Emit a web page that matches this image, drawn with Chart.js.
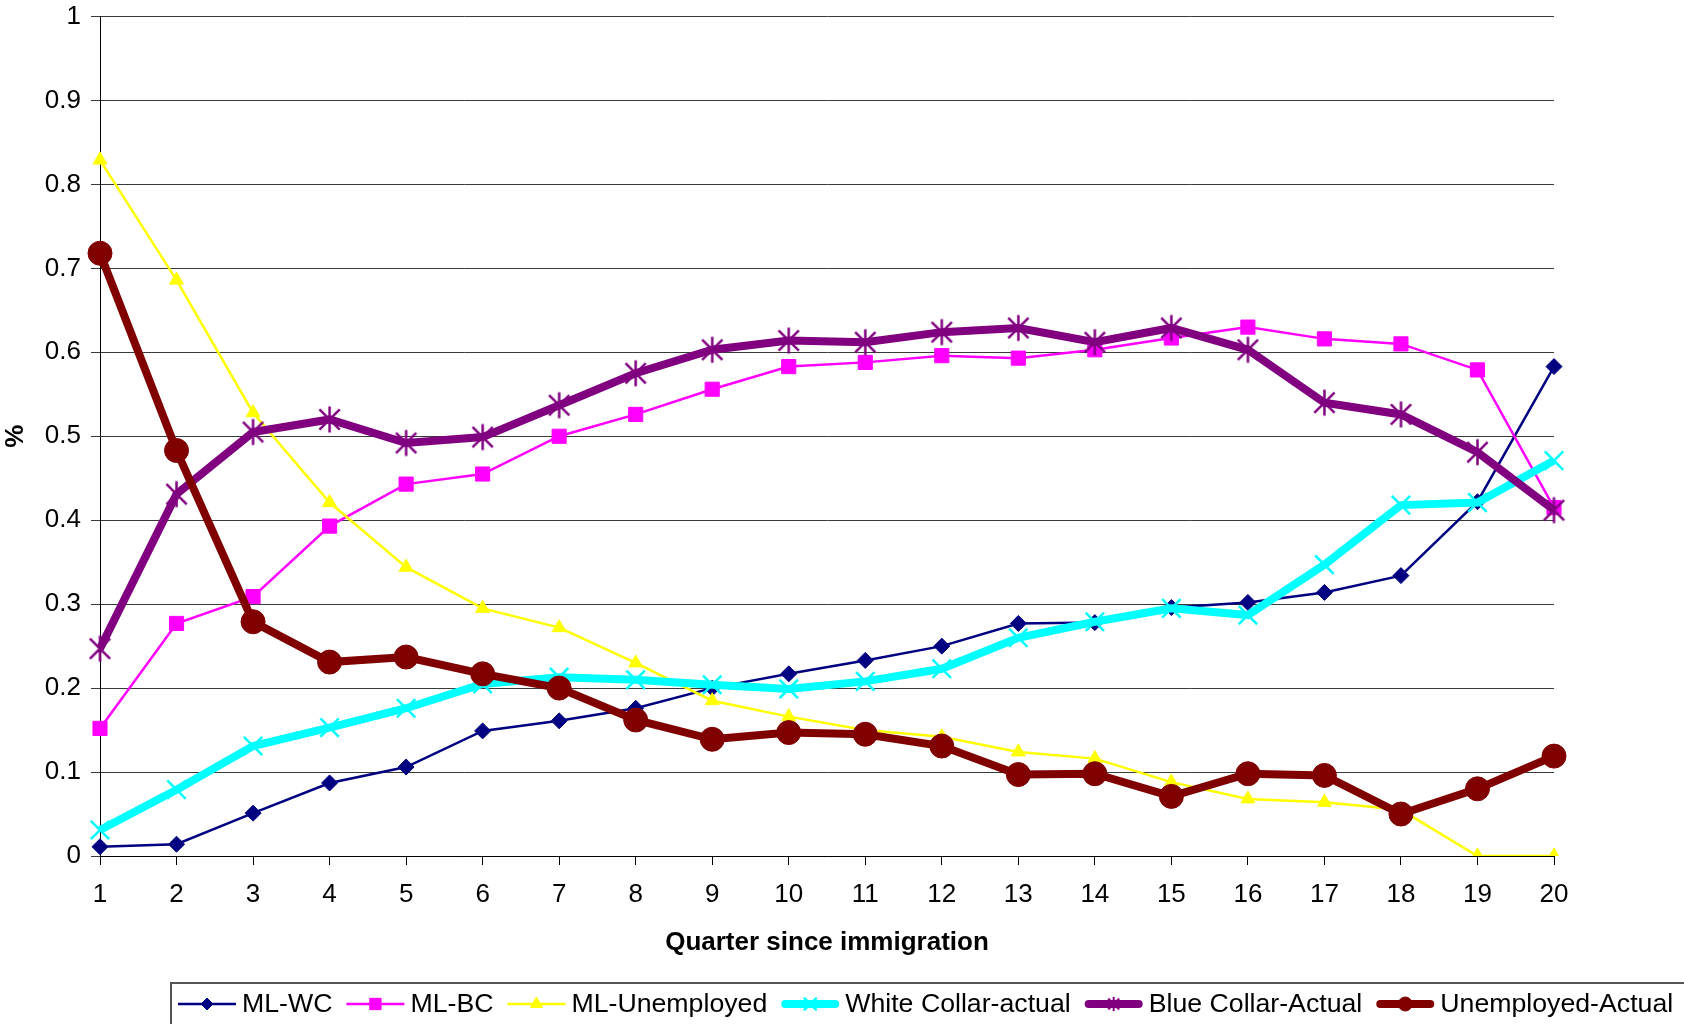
<!DOCTYPE html>
<html>
<head>
<meta charset="utf-8">
<title>Occupation shares by quarter since immigration</title>
<script src="https://cdn.jsdelivr.net/npm/chart.js@4/dist/chart.umd.min.js"></script>
<style>
  html, body { margin: 0; padding: 0; background: #fff; }
  #wrap { width: 1684px; height: 1024px; position: relative; }
</style>
</head>
<body>
<div id="wrap"><canvas id="c" width="1684" height="1024"></canvas></div>
<script>
// Quarters since immigration (x categories)
const quarters = ['1','2','3','4','5','6','7','8','9','10','11','12','13','14','15','16','17','18','19','20'];

// Model (ML) predicted shares
const mlWC = [0.011, 0.014, 0.051, 0.087, 0.106, 0.149, 0.161, 0.176, 0.200, 0.217,
              0.233, 0.250, 0.277, 0.278, 0.296, 0.302, 0.314, 0.334, 0.422, 0.583];
const mlBC = [0.152, 0.277, 0.309, 0.393, 0.443, 0.455, 0.500, 0.526, 0.556, 0.583,
              0.588, 0.596, 0.593, 0.603, 0.617, 0.630, 0.616, 0.610, 0.579, 0.415];
const mlUnemployed = [0.829, 0.686, 0.528, 0.421, 0.344, 0.295, 0.272, 0.230, 0.185, 0.166,
                      0.150, 0.142, 0.124, 0.116, 0.088, 0.068, 0.064, 0.055, 0.000, 0.000];

// Observed shares
const whiteCollarActual = [0.031, 0.079, 0.131, 0.153, 0.176, 0.205, 0.213, 0.210, 0.204, 0.199,
                           0.208, 0.223, 0.260, 0.279, 0.295, 0.287, 0.347, 0.418, 0.421, 0.471];
const blueCollarActual = [0.247, 0.431, 0.505, 0.520, 0.492, 0.499, 0.537, 0.575, 0.603, 0.614,
                          0.612, 0.624, 0.629, 0.612, 0.629, 0.603, 0.540, 0.526, 0.481, 0.412];
const unemployedActual = [0.718, 0.483, 0.279, 0.231, 0.237, 0.217, 0.200, 0.162, 0.139, 0.147,
                          0.145, 0.131, 0.097, 0.098, 0.071, 0.098, 0.096, 0.050, 0.080, 0.119];

const seriesNames = ['ML-WC', 'ML-BC', 'ML-Unemployed', 'White Collar-actual', 'Blue Collar-Actual', 'Unemployed-Actual'];
const yTickValues = [0, 0.1, 0.2, 0.3, 0.4, 0.5, 0.6, 0.7, 0.8, 0.9, 1];

const FONT = '"Liberation Sans", Arial, Helvetica, sans-serif';

// Asterisk marker: an X with a vertical stroke through it
function asterisk(color, r, lw) {
  const s = Math.ceil(2 * r + lw * 2);
  const c = document.createElement('canvas');
  c.width = s; c.height = s;
  const g = c.getContext('2d');
  const m = s / 2, d = r * 0.78;
  g.strokeStyle = color; g.lineWidth = lw; g.lineCap = 'butt';
  g.beginPath();
  g.moveTo(m - d, m - d); g.lineTo(m + d, m + d);
  g.moveTo(m + d, m - d); g.lineTo(m - d, m + d);
  g.moveTo(m, m - r); g.lineTo(m, m + r);
  g.stroke();
  return c;
}
const starBig = asterisk('#800080', 13, 2.5);
const starSmall = asterisk('#800080', 7, 2);

const styles = [
  { color: '#000080', width: 2.5, point: 'rectRot',  radius: 8,  pb: 1,   legendPoint: 'rectRot',  legendRadius: 6 },
  { color: '#FF00FF', width: 2.5, point: 'rect',     radius: 10, pb: 1,   legendPoint: 'rect',     legendRadius: 8 },
  { color: '#FFFF00', width: 2.5, point: 'triangle', radius: 8,  pb: 1,   legendPoint: 'triangle', legendRadius: 7 },
  { color: '#00FFFF', width: 8,   point: 'crossRot', radius: 13, pb: 2.5, legendPoint: 'crossRot', legendRadius: 8 },
  { color: '#800080', width: 8,   point: starBig,    radius: 13, pb: 2.5, legendPoint: starSmall,  legendRadius: 7 },
  { color: '#800000', width: 8,   point: 'circle',   radius: 12, pb: 1,   legendPoint: 'circle',   legendRadius: 7 }
];
const seriesData = [mlWC, mlBC, mlUnemployed, whiteCollarActual, blueCollarActual, unemployedActual];

const datasets = seriesNames.map((name, i) => ({
  label: name,
  data: seriesData[i],
  borderColor: styles[i].color,
  backgroundColor: styles[i].color,
  borderWidth: styles[i].width,
  pointStyle: styles[i].point,
  pointRadius: styles[i].radius,
  pointHoverRadius: styles[i].radius,
  pointBorderWidth: styles[i].pb,
  pointBackgroundColor: styles[i].color,
  pointBorderColor: styles[i].color,
  tension: 0,
  fill: false,
  order: seriesNames.length - 1 - i
}));

// Boxed legend along the bottom edge
const bottomLegend = {
  id: 'bottomLegend',
  afterDraw(chart) {
    const ctx = chart.ctx;
    ctx.save();
    ctx.strokeStyle = '#555';
    ctx.lineWidth = 2;
    ctx.strokeRect(171, 983, 1600, 120);
    ctx.font = '26.7px ' + FONT;
    ctx.textBaseline = 'middle';
    ctx.textAlign = 'left';
    const cy = 1004;
    let x = 178;
    seriesNames.forEach((name, i) => {
      const st = styles[i];
      const len = 58;
      const thick = st.width > 4;
      ctx.strokeStyle = st.color;
      ctx.lineWidth = st.width;
      ctx.lineCap = thick ? 'round' : 'butt';
      ctx.beginPath();
      ctx.moveTo(x + (thick ? 4 : 0), cy);
      ctx.lineTo(x + len - (thick ? 4 : 0), cy);
      ctx.stroke();
      ctx.fillStyle = st.color;
      ctx.strokeStyle = st.color;
      ctx.lineWidth = st.pb;
      Chart.helpers.drawPoint(ctx, {
        pointStyle: st.legendPoint, radius: st.legendRadius, borderWidth: st.pb, rotation: 0
      }, x + len / 2, cy);
      ctx.fillStyle = '#000';
      const tx = x + len + 6;
      ctx.fillText(name, tx, cy + 1);
      x = tx + ctx.measureText(name).width + 14;
    });
    ctx.restore();
  }
};

new Chart(document.getElementById('c'), {
  type: 'line',
  data: { labels: quarters, datasets },
  plugins: [bottomLegend],
  options: {
    responsive: false,
    animation: false,
    events: [],
    layout: { padding: { left: 0, top: 12, right: 130, bottom: 66 } },
    plugins: { legend: { display: false }, tooltip: { enabled: false } },
    scales: {
      x: {
        type: 'category',
        offset: false,
        grid: { drawOnChartArea: false, drawTicks: true, tickLength: 9, color: '#000', lineWidth: 1 },
        border: { display: true, color: '#000', width: 1 },
        ticks: { color: '#000', font: { family: FONT, size: 26 }, padding: 14, maxRotation: 0, autoSkip: false },
        title: { display: true, text: 'Quarter since immigration', color: '#000',
                 font: { family: FONT, size: 26, weight: 'bold' }, padding: { top: 0, bottom: 0 } },
        afterFit(scale) { scale.height = 102; }
      },
      y: {
        min: 0, max: 1,
        afterBuildTicks(scale) { scale.ticks = yTickValues.map(v => ({ value: v })); },
        grid: { color: '#3a3a3a', lineWidth: 1, tickLength: 9 },
        border: { display: true, color: '#000', width: 1 },
        ticks: { color: '#000', font: { family: FONT, size: 26, lineHeight: 0.5 }, padding: 10,
                 callback: v => String(+v.toFixed(1)) },
        title: { display: true, text: '%', color: '#000',
                 font: { family: FONT, size: 26, weight: 'bold' }, padding: { top: 0, bottom: 0 } },
        afterFit(scale) { scale.width = 100; }
      }
    }
  }
});
</script>
</body>
</html>
